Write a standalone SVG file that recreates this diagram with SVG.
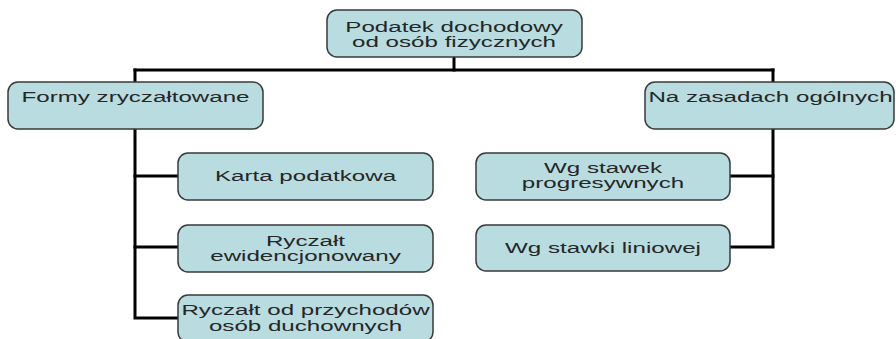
<svg xmlns="http://www.w3.org/2000/svg" width="896" height="339" viewBox="0 0 896 339">
  <style>
    .box { fill: #b8dcdf; stroke: #3a3a3a; stroke-width: 1.5; }
    .lbl { font-family: "Liberation Sans", Arial, sans-serif; font-size: 15px; fill: #262626; text-anchor: middle; }
    .wire { fill: none; stroke: #000; stroke-width: 3; stroke-linecap: square; }
  </style>
  <rect width="896" height="339" fill="#ffffff"/>

  <!-- connectors -->
  <g id="connectors">
    <path class="wire" d="M454 57 V70"/>
    <path class="wire" d="M135 70 H773"/>
    <path class="wire" d="M135 70 V82"/>
    <path class="wire" d="M773 70 V82"/>
    <path class="wire" d="M135 129 V318 H178"/>
    <path class="wire" d="M135 176 H178"/>
    <path class="wire" d="M135 247 H178"/>
    <path class="wire" d="M773 129 V247 H730"/>
    <path class="wire" d="M773 176 H730"/>
  </g>

  <g id="root">
    <rect class="box" x="327" y="10" width="255" height="47" rx="10"/>
    <g transform="translate(454 0) scale(1.61 1)">
      <text class="lbl" x="0" y="32">Podatek dochodowy</text>
      <text class="lbl" x="0" y="47">od osób fizycznych</text>
    </g>
  </g>

  <g id="formy">
    <rect class="box" x="8" y="82" width="255" height="47" rx="10"/>
    <g transform="translate(135.5 0) scale(1.61 1)">
      <text class="lbl" x="0" y="102">Formy zryczałtowane</text>
    </g>
  </g>

  <g id="ogolne">
    <rect class="box" x="645" y="82" width="249" height="47" rx="10"/>
    <g transform="translate(770.5 0) scale(1.61 1)">
      <text class="lbl" x="0" y="102">Na zasadach ogólnych</text>
    </g>
  </g>

  <g id="karta">
    <rect class="box" x="178" y="153" width="255" height="47" rx="10"/>
    <g transform="translate(305.5 0) scale(1.61 1)">
      <text class="lbl" x="0" y="181">Karta podatkowa</text>
    </g>
  </g>

  <g id="ewidencjonowany">
    <rect class="box" x="178" y="225" width="255" height="47" rx="10"/>
    <g transform="translate(305.5 0) scale(1.61 1)">
      <text class="lbl" x="0" y="246">Ryczałt</text>
      <text class="lbl" x="0" y="261">ewidencjonowany</text>
    </g>
  </g>

  <g id="duchowni">
    <rect class="box" x="178" y="295" width="255" height="47" rx="10"/>
    <g transform="translate(305.5 0) scale(1.61 1)">
      <text class="lbl" x="0" y="315">Ryczałt od przychodów</text>
      <text class="lbl" x="0" y="331">osób duchownych</text>
    </g>
  </g>

  <g id="progresywne">
    <rect class="box" x="476" y="153" width="254" height="47" rx="10"/>
    <g transform="translate(603 0) scale(1.61 1)">
      <text class="lbl" x="0" y="173">Wg stawek</text>
      <text class="lbl" x="0" y="188">progresywnych</text>
    </g>
  </g>

  <g id="liniowa">
    <rect class="box" x="476" y="225" width="254" height="46" rx="10"/>
    <g transform="translate(603 0) scale(1.61 1)">
      <text class="lbl" x="0" y="253">Wg stawki liniowej</text>
    </g>
  </g>
</svg>
